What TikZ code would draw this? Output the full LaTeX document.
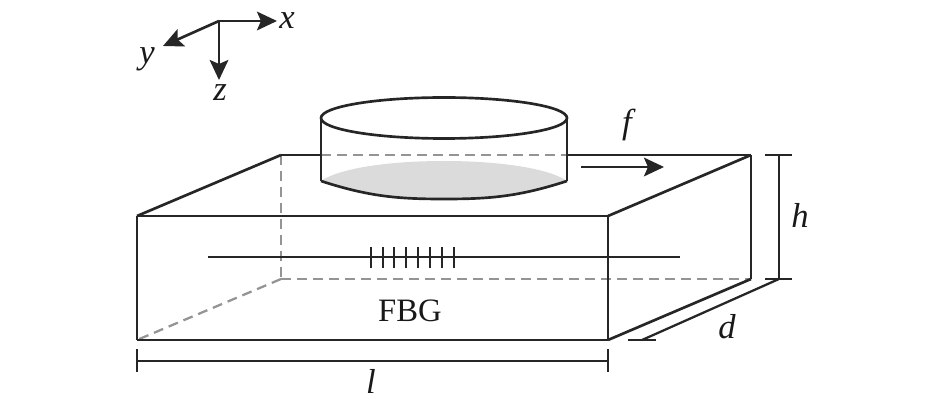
\documentclass[tikz,border=0pt]{standalone}
\usepackage{fontspec}
\setmainfont{Liberation Serif}
\usetikzlibrary{arrows.meta}

\begin{document}
\begin{tikzpicture}[x=0.75pt,y=0.75pt,yscale=-1,xscale=1,
    solidline/.style={draw=black!85,line width=2pt},
    hiddenline/.style={draw=black!42,line width=1.7pt,dash pattern={on 7.5pt off 4.5pt}},
    thinline/.style={draw=black!85,line width=1.7pt},
    tipline/.style={solidline,-{Stealth[length=15pt,width=14pt,inset=3pt]}},
    label/.style={inner sep=0.75pt,text=black!90,font=\fontsize{24.5}{28}\selectfont},
    symbol/.style={label,font=\fontsize{26}{29}\selectfont\itshape}]
    \useasboundingbox (0,0) rectangle (945,402);

    % Corners of the block
    \coordinate (ftl) at (137,216);
    \coordinate (ftr) at (608,216);
    \coordinate (fbl) at (137,340);
    \coordinate (fbr) at (608,340);
    \coordinate (btl) at (281,155);
    \coordinate (btr) at (751,155);
    \coordinate (bbl) at (281,279);
    \coordinate (bbr) at (751,279);
    \coordinate (cl) at (321,155);
    \coordinate (cr) at (567,155);

    % Shaded base of the disc
    \fill [black!14] (321,181) .. controls (338,169) and (385,161) .. (444,161) .. controls (503,161) and (550,169) .. (567,181) .. controls (518,197) and (488,199) .. (444,199) .. controls (400,199) and (370,197) .. (321,181);

    % Hidden edges
    \draw [hiddenline] (cl) -- (cr);
    \draw [hiddenline] (btl) -- (bbl);
    \draw [hiddenline] (bbl) -- (bbr);
    \draw [hiddenline] (bbl) -- (fbl);

    % Block
    \draw [solidline] (ftl) -- (ftr);
    \draw [solidline] (ftl) -- (fbl);
    \draw [solidline] (fbl) -- (fbr);
    \draw [solidline] (ftr) -- (fbr);
    \draw [solidline] (ftl) -- (btl);
    \draw [solidline] (btl) -- (cl);
    \draw [solidline] (cr) -- (btr);
    \draw [solidline] (ftr) -- (btr);
    \draw [solidline] (btr) -- (bbr);
    \draw [solidline] (bbr) -- (fbr);

    % Disc
    \draw [solidline] (444,118) ellipse (123 and 20.5);
    \draw [solidline] (321,118) -- (321,181);
    \draw [solidline] (567,118) -- (567,181);
    \draw [solidline] (321,181) .. controls (370,197) and (400,199) .. (444,199) .. controls (488,199) and (518,197) .. (567,181);

    % Fibre with grating
    \coordinate (fibs) at (208,257);
    \coordinate (fibe) at (680,257);
    \draw [thinline] (fibs) -- (fibe);
    \draw [thinline] (371,247) -- (371,268);
    \draw [thinline] (383,247) -- (383,268);
    \draw [thinline] (394,247) -- (394,268);
    \draw [thinline] (406,247) -- (406,268);
    \draw [thinline] (418,247) -- (418,268);
    \draw [thinline] (430,247) -- (430,268);
    \draw [thinline] (442,247) -- (442,268);
    \draw [thinline] (454,247) -- (454,268);

    % Axes
    \coordinate (o) at (219,21);
    \coordinate (xe) at (277,21);
    \coordinate (ye) at (163,46);
    \coordinate (ze) at (219,80);
    \draw [tipline] (o) -- (xe);
    \draw [tipline] (o) -- (ye);
    \draw [tipline] (o) -- (ze);

    % Force arrow
    \coordinate (fs) at (581,167);
    \coordinate (fe) at (664,167);
    \draw [tipline] (fs) -- (fe);

    % Dimension h
    \coordinate (hs) at (779,155);
    \coordinate (he) at (779,279);
    \draw [thinline] (hs) -- (he);
    \draw [thinline] (765,155) -- (792,155);
    \draw [thinline] (765,279) -- (792,279);
    % Dimension d
    \coordinate (de) at (642,340);
    \draw [thinline] (he) -- (de);
    \draw [thinline] (628,340) -- (656,340);
    % Dimension l
    \coordinate (ls) at (137,361);
    \coordinate (le) at (608,361);
    \draw [thinline] (ls) -- (le);
    \draw [thinline] (137,349) -- (137,372);
    \draw [thinline] (608,349) -- (608,372);

    % Text Node
    \draw (287,21) node (lblx) [symbol]    {x};
    % Text Node
    \draw (147,59) node (lbly) [symbol]    {y};
    % Text Node
    \draw (220,93) node (lblz) [symbol]    {z};
    % Text Node
    \draw (627,125) node (lblf) [symbol]    {f};
    % Text Node
    \draw (800,215) node (lblh) [symbol]    {h};
    % Text Node
    \draw (727,327) node (lbld) [symbol]    {d};
    % Text Node
    \draw (371,381) node (lbll) [symbol]    {l};
    % Text Node
    \draw (410,311) node (lblfbg) [label]    {FBG};
\end{tikzpicture}
\end{document}
